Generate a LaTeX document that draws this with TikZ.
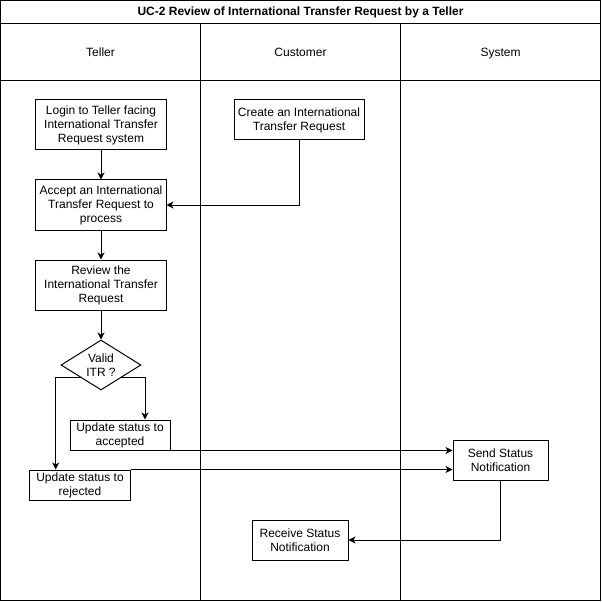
\documentclass[tikz,border=0pt]{standalone}
\usepackage{fontspec}
\setmainfont{Liberation Sans}
\usetikzlibrary{arrows.meta,shapes.geometric}
\begin{document}
\begin{tikzpicture}[x=1bp,y=-1bp,line width=1bp,
  every node/.style={font=\fontsize{12bp}{14bp}\selectfont, align=center, inner sep=0pt},
  proc/.style={draw, rectangle, line width=1bp},
  decision/.style={draw, diamond, aspect=1.6, line width=1bp, minimum width=80bp, minimum height=50bp},
  lanehead/.style={text height=9bp, text depth=3bp},
  arr/.style={-{Stealth[length=7bp,width=7bp,inset=2bp]}, line width=1bp}
]
\useasboundingbox (0,0) rectangle (602,602);
% pool frame and lanes
\draw (0.5,0.5) rectangle (600.5,600.5);
\draw (0.5,23.5) -- (600.5,23.5);
\draw (0.5,80.5) -- (600.5,80.5);
\draw (200.5,23.5) -- (200.5,600.5);
\draw (400.5,23.5) -- (400.5,600.5);
\node[lanehead, font=\bfseries\fontsize{12bp}{14bp}\selectfont] (title) at (300.5,12.5) {UC-2 Review of International Transfer Request by a Teller};
\node[lanehead] (hteller) at (100.5,54) {Teller};
\node[lanehead] (hcustomer) at (300.5,54) {Customer};
\node[lanehead] (hsystem) at (500.5,54) {System};
% steps
\node[proc, minimum width=130bp, minimum height=50bp] (login) at (101,125) {Login to Teller facing\\International Transfer\\Request system};
\node[proc, minimum width=130bp, minimum height=40bp] (create) at (299,120) {Create an International\\Transfer Request};
\node[proc, minimum width=130bp, minimum height=50bp] (accept) at (101,205) {Accept an International\\Transfer Request to\\process};
\node[proc, minimum width=130bp, minimum height=50bp] (review) at (101,285) {Review the\\International Transfer\\Request};
\node[decision] (valid) at (101,365) {Valid\\ITR ?};
\node[proc, minimum width=100bp, minimum height=30bp] (accepted) at (120,435) {Update status to\\accepted};
\node[proc, minimum width=100bp, minimum height=30bp] (rejected) at (80,485) {Update status to\\rejected};
\node[proc, minimum width=95bp, minimum height=40bp] (send) at (500.5,460) {Send Status\\Notification};
\node[proc, minimum width=96bp, minimum height=40bp] (receive) at (300,540) {Receive Status\\Notification};
% connectors
\draw[arr] (login.south) -- (accept.north);
\draw[arr] (accept.south) -- (review.north);
\draw[arr] (review.south) -- (valid.north);
\draw[arr] (create.south) |- (accept.east);
\draw[arr] (valid.south west) -| ([xshift=-24.3bp]rejected.north);
\draw[arr] (valid.south east) -| ([xshift=25bp]accepted.north);
\draw[arr] (accepted.south east) -- (accepted.south east -| send.west);
\draw[arr] (rejected.north east) -- (rejected.north east -| send.west);
\draw[arr] (send.south) |- (receive.east);
\end{tikzpicture}
\end{document}
